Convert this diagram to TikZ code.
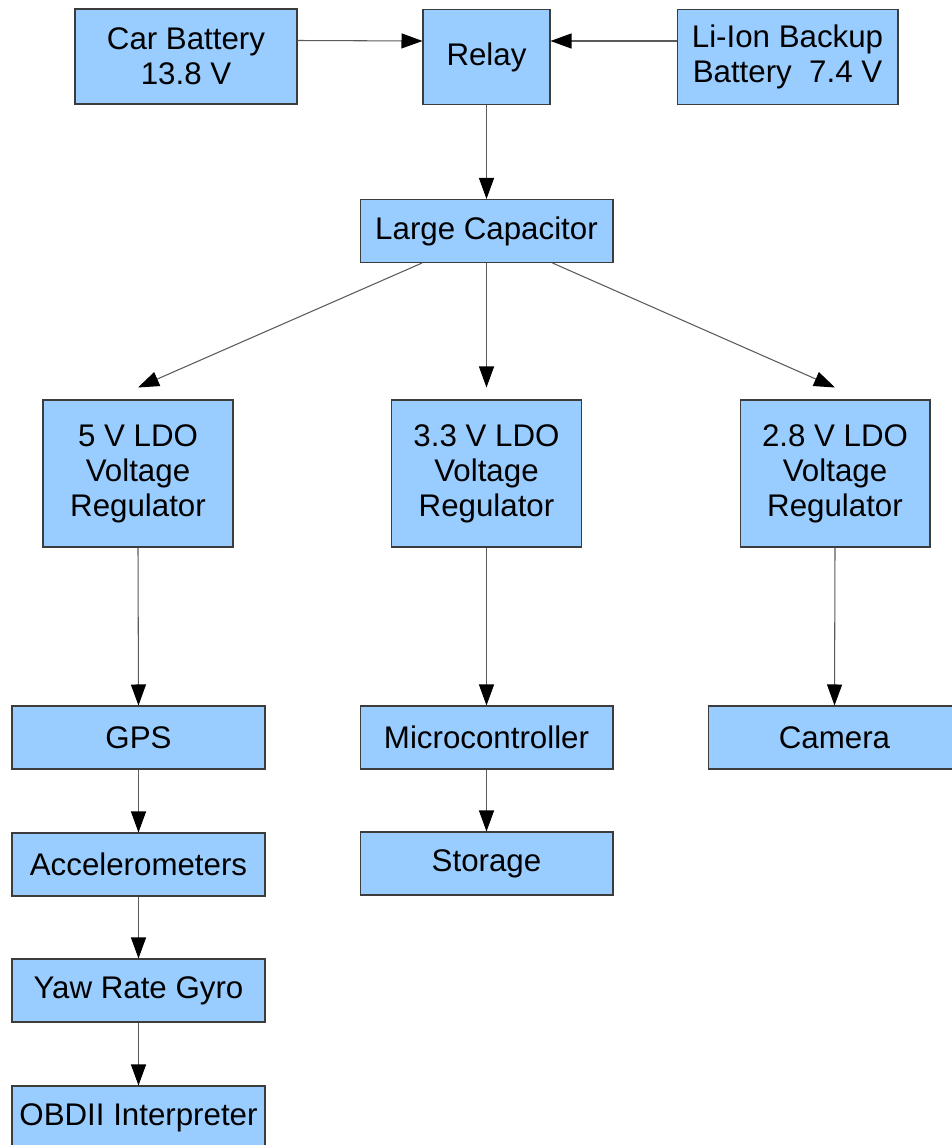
\documentclass[tikz,border=0pt]{standalone}
\usepackage{fontspec}
\setmainfont{Liberation Sans}
\definecolor{boxblue}{RGB}{153,204,255}
\definecolor{boxedge}{RGB}{60,60,60}
\definecolor{wiregray}{RGB}{90,90,90}
\usetikzlibrary{arrows.meta,positioning}

\begin{document}
\begin{tikzpicture}[x=0.02cm, y=-0.02cm,
        blk/.style={rectangle, draw=boxedge, line width=0.6pt, fill=boxblue,
                    inner sep=0pt, align=center,
                    font=\fontsize{17.8pt}{20pt}\selectfont},
        wide/.style={blk, minimum width=5.06cm, minimum height=1.26cm},
        ldo/.style={blk, minimum width=3.8cm, minimum height=2.94cm},
        src/.style={blk, minimum height=1.9cm},
        arr/.style={-{Triangle[length=0.42cm, width=0.3cm, black]}, line width=0.6pt, wiregray}
      ]
        \useasboundingbox (0,0) rectangle (952,1145);

        % supply side
        \node[src, minimum width=4.44cm] (car)   at (186,56.5)  {Car Battery\\13.8 V};
        \node[src, minimum width=2.54cm] (relay) at (486.5,57)  {Relay};
        \node[src, minimum width=4.42cm] (liion) at (787.5,57)  {Li-Ion Backup\\Battery~ 7.4 V};
        \node[wide]                      (cap)   at (486.5,231) {Large Capacitor};

        % regulators
        \node[ldo] (ldo5)  at (138,473.5)   {5 V LDO\\Voltage\\Regulator};
        \node[ldo] (ldo33) at (486.5,473.5) {3.3 V LDO\\Voltage\\Regulator};
        \node[ldo] (ldo28) at (835,473.5)   {2.8 V LDO\\Voltage\\Regulator};

        % loads
        \node[wide] (gps)   at (138.5,737.5)  {GPS};
        \node[wide] (acc)   at (138.5,864.5)  {Accelerometers};
        \node[wide] (gyro)  at (138.5,990.5)  {Yaw Rate Gyro};
        \node[wide] (obd)   at (138.5,1117.5) {OBDII Interpreter};
        \node[wide] (micro) at (486.5,737.5)  {Microcontroller};
        \node[wide] (store) at (486.5,863.5)  {Storage};
        \node[wide] (cam)   at (834.5,737.5)  {Camera};

        \draw[arr] ([yshift=0.32cm]car.east)   -- ([yshift=0.32cm]relay.west);
        \draw[arr] ([yshift=0.32cm]liion.west) -- ([yshift=0.32cm]relay.east);
        \draw[arr] (relay.south) -- (cap.north);

        \draw[arr] ([xshift=-1.29cm]cap.south) -- ([yshift=0.24cm]ldo5.north);
        \draw[arr] (cap.south) -- ([yshift=0.24cm]ldo33.north);
        \draw[arr] ([xshift=1.32cm]cap.south) -- ([yshift=0.24cm]ldo28.north);

        \draw[arr] (ldo5.south)  -- (gps.north);
        \draw[arr] (gps.south)   -- (acc.north);
        \draw[arr] (acc.south)   -- (gyro.north);
        \draw[arr] (gyro.south)  -- (obd.north);
        \draw[arr] (ldo33.south) -- (micro.north);
        \draw[arr] (micro.south) -- (store.north);
        \draw[arr] (ldo28.south) -- (cam.north);
      \end{tikzpicture}
\end{document}
